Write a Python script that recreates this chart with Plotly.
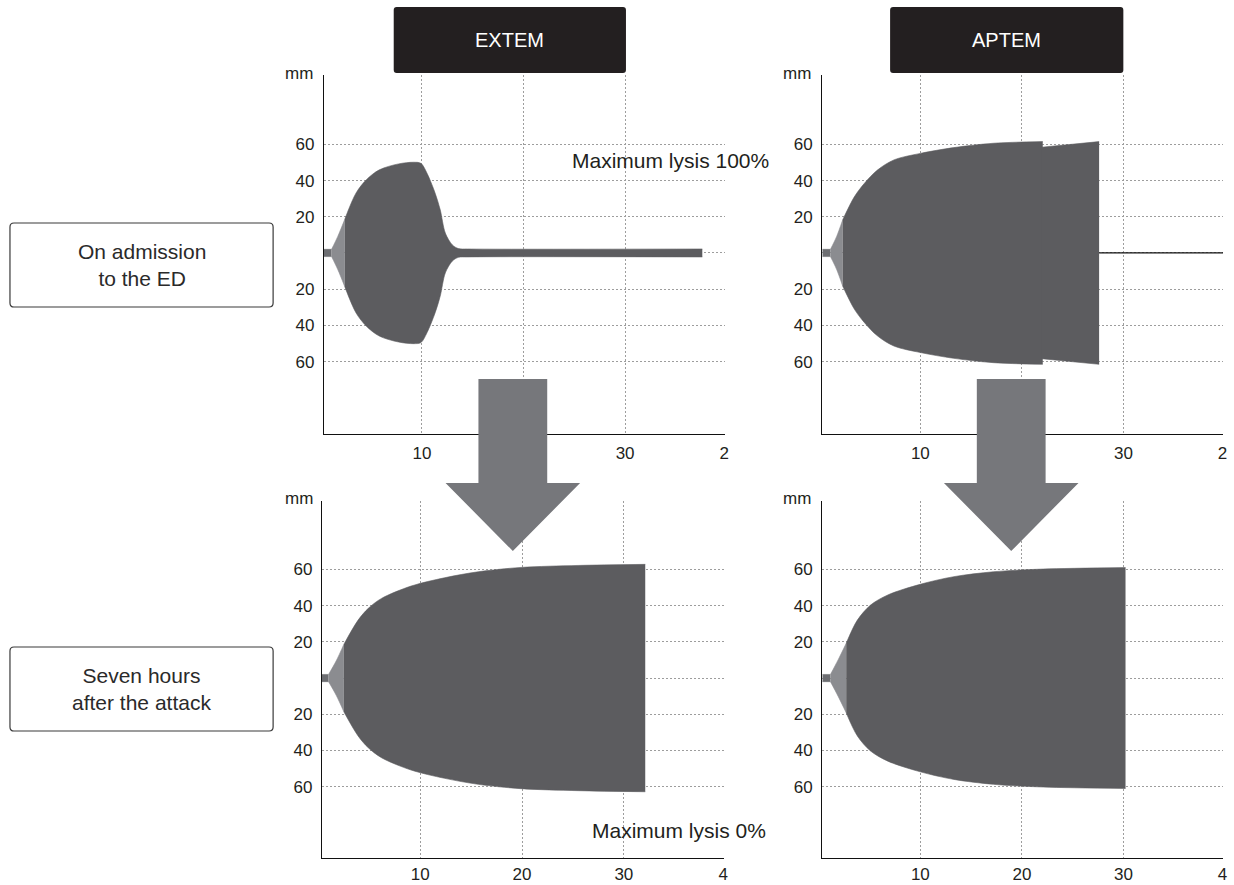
import plotly.graph_objects as go

W, H = 1234, 885
FONT = "Liberation Sans"
INK = "#231f20"
DARK = "#5c5c5f"
LIGHT = "#8b8c90"
START = "#6d6e72"
ARROW = "#76777b"
GRID = "#9d9d9d"

# Temogram amplitudes (mm) against time (min); each trace is symmetric about 0
# EXTEM on admission
ext_adm_start_x = [0.35, 1.1]
ext_adm_start_a = [2.0, 2.0]
ext_adm_cft_x = [1.1, 1.7, 2.4]
ext_adm_cft_a = [2.0, 9.0, 18.6]
ext_adm_x = [2.4, 3.5, 4.5, 5.8, 7.7, 9.2, 9.9, 10.5, 11.3, 11.8, 12.3, 13.0, 13.6, 14.5, 37.6]
ext_adm_a = [18.6, 33.0, 40.3, 45.9, 49.2, 50.1, 49.5, 44.0, 33.0, 23.8, 11.0, 4.4, 2.4, 2.2, 2.2]

# APTEM on admission (curve, then the segment after the step)
apt_adm_start_x = [0.35, 1.15]
apt_adm_start_a = [2.0, 2.0]
apt_adm_cft_x = [1.15, 1.75, 2.35]
apt_adm_cft_a = [2.0, 9.0, 18.2]
apt_adm_x = [2.35, 3.5, 4.5, 5.8, 7.4, 10.0, 13.3, 17.2, 22.05]
apt_adm_a = [18.2, 31.0, 38.5, 45.9, 51.4, 55.0, 58.2, 60.6, 61.5]
apt_adm_tail_x = [21.95, 27.6]
apt_adm_tail_a = [58.4, 61.5]
apt_adm_flat_x = [27.6, 39.8]

# EXTEM seven hours after the attack
ext_7h_start_x = [0.35, 1.0]
ext_7h_start_a = [2.0, 2.0]
ext_7h_cft_x = [1.0, 1.75, 2.5]
ext_7h_cft_a = [2.0, 9.5, 18.6]
ext_7h_x = [2.5, 3.9, 4.9, 6.2, 9.1, 12.4, 15.7, 19.9, 25.5, 32.1]
ext_7h_a = [18.6, 32.0, 38.5, 44.0, 50.8, 55.4, 58.7, 61.1, 62.2, 62.8]

# APTEM seven hours after the attack
apt_7h_start_x = [0.35, 1.15]
apt_7h_start_a = [2.0, 2.0]
apt_7h_cft_x = [1.15, 1.9, 2.7]
apt_7h_cft_a = [2.0, 10.0, 19.2]
apt_7h_x = [2.7, 3.8, 5.1, 6.8, 10.0, 13.3, 17.2, 22.1, 30.2]
apt_7h_a = [19.2, 32.0, 40.3, 45.9, 51.8, 56.0, 58.7, 60.2, 61.0]

x_tick_vals = [10, 20, 30, 39.75]
x_tick_text_top = ["10", "20", "30", "2"]
x_tick_text_bottom = ["10", "20", "30", "4"]
y_tick_vals = [-60, -40, -20, 20, 40, 60]
y_tick_text = ["60", "40", "20", "20", "40", "60"]
grid_x = [10, 20, 30]
grid_y = [-60, -40, -20, 0, 20, 40, 60]

columns = ["EXTEM", "APTEM"]
rows = ["On admission<br>to the ED", "Seven hours<br>after the attack"]
lysis_notes = ["Maximum lysis 100%", "Maximum lysis 0%"]


def px(x):
    return x / W


def py(y):
    return 1 - y / H


fig = go.Figure()


def band(xs, amps, color, axis, shape="spline"):
    xa, ya = ("x", "y") if axis == 1 else (f"x{axis}", f"y{axis}")
    fig.add_trace(go.Scatter(x=xs, y=[-a for a in amps], mode="lines",
                             line=dict(color=color, width=0.6, shape=shape, smoothing=0.9),
                             xaxis=xa, yaxis=ya, hoverinfo="skip"))
    fig.add_trace(go.Scatter(x=xs, y=list(amps), mode="lines", fill="tonexty",
                             fillcolor=color,
                             line=dict(color=color, width=0.6, shape=shape, smoothing=0.9),
                             xaxis=xa, yaxis=ya, hoverinfo="skip"))


# panel 1: EXTEM on admission
band(ext_adm_start_x, ext_adm_start_a, START, 1, "linear")
band(ext_adm_cft_x, ext_adm_cft_a, LIGHT, 1)
band(ext_adm_x, ext_adm_a, DARK, 1)
# panel 2: APTEM on admission
band(apt_adm_start_x, apt_adm_start_a, START, 2, "linear")
band(apt_adm_cft_x, apt_adm_cft_a, LIGHT, 2)
band(apt_adm_x, apt_adm_a, DARK, 2)
band(apt_adm_tail_x, apt_adm_tail_a, DARK, 2, "linear")
fig.add_trace(go.Scatter(x=apt_adm_flat_x, y=[0, 0], mode="lines",
                         line=dict(color="#111111", width=1.2),
                         xaxis="x2", yaxis="y2", hoverinfo="skip"))
# panel 3: EXTEM after seven hours
band(ext_7h_start_x, ext_7h_start_a, START, 3, "linear")
band(ext_7h_cft_x, ext_7h_cft_a, LIGHT, 3)
band(ext_7h_x, ext_7h_a, DARK, 3)
# panel 4: APTEM after seven hours
band(apt_7h_start_x, apt_7h_start_a, START, 4, "linear")
band(apt_7h_cft_x, apt_7h_cft_a, LIGHT, 4)
band(apt_7h_x, apt_7h_a, DARK, 4)

# panel frames in pixels: (left, right, top, bottom)
frames = {
    1: (325, 727, 75, 434),
    2: (825, 1227, 75, 434),
    3: (323, 726, 501, 858),
    4: (825, 1227, 501, 858),
}
y_ranges = {1: [-100.0, 98.3], 2: [-100.0, 98.3], 3: [-99.4, 97.8], 4: [-99.4, 97.8]}

layout = dict(
    width=W, height=H, autosize=False,
    margin=dict(l=0, r=0, t=0, b=0),
    paper_bgcolor="white", plot_bgcolor="white",
    showlegend=False,
    font=dict(family=FONT, color=INK, size=17),
)
for i, (l, r, t, b) in frames.items():
    sx = "" if i == 1 else str(i)
    layout[f"xaxis{sx}"] = dict(
        domain=[px(l), px(r)], range=[0.35, 39.8], anchor=f"y{sx}",
        showline=True, linecolor="#111111", linewidth=1.3,
        showgrid=False, zeroline=False, ticks="",
        tickmode="array", tickvals=x_tick_vals,
        ticktext=x_tick_text_top if i <= 2 else x_tick_text_bottom,
        ticklabelstandoff=3 if i <= 2 else 0, tickfont=dict(size=17),
        minor=dict(tickmode="array", tickvals=grid_x, showgrid=True,
                   gridcolor=GRID, griddash="2px,2px", gridwidth=1, ticks=""),
        fixedrange=True,
    )
    layout[f"yaxis{sx}"] = dict(
        domain=[py(b), py(t)], range=y_ranges[i], anchor=f"x{sx}",
        showline=True, linecolor="#111111", linewidth=1.3,
        showgrid=False, zeroline=False, ticks="",
        tickmode="array", tickvals=y_tick_vals, ticktext=y_tick_text,
        ticklabelstandoff=5, tickfont=dict(size=17),
        minor=dict(tickmode="array", tickvals=grid_y, showgrid=True,
                   gridcolor=GRID, griddash="2px,2px", gridwidth=1, ticks=""),
        fixedrange=True,
    )
fig.update_layout(**layout)


def rounded(x0, y0, x1, y1, r):
    """Rounded rectangle path in paper coordinates from pixel corners."""
    pts = [
        f"M {px(x0 + r)},{py(y0)}", f"L {px(x1 - r)},{py(y0)}",
        f"Q {px(x1)},{py(y0)} {px(x1)},{py(y0 + r)}", f"L {px(x1)},{py(y1 - r)}",
        f"Q {px(x1)},{py(y1)} {px(x1 - r)},{py(y1)}", f"L {px(x0 + r)},{py(y1)}",
        f"Q {px(x0)},{py(y1)} {px(x0)},{py(y1 - r)}", f"L {px(x0)},{py(y0 + r)}",
        f"Q {px(x0)},{py(y0)} {px(x0 + r)},{py(y0)}", "Z",
    ]
    return " ".join(pts)


shapes = []
# column headers
for (x0, x1) in [(395, 628), (893, 1127)]:
    shapes.append(dict(type="path", xref="paper", yref="paper",
                       path=rounded(x0, 7, x1, 73, 3),
                       fillcolor="#231f20", line=dict(width=0), layer="above"))
# row labels
for (y0, y1) in [(223, 307), (647, 731)]:
    shapes.append(dict(type="path", xref="paper", yref="paper",
                       path=rounded(10, y0, 274, y1, 4),
                       fillcolor="white", line=dict(color="#3a3a3a", width=1.2),
                       layer="above"))
# arrows from the admission panels to the seven-hour panels
for cx in [514.5, 1014.5]:
    pts = [(cx - 34.5, 379), (cx + 34.5, 379), (cx + 34.5, 483), (cx + 67.5, 483),
           (cx, 551), (cx - 67.5, 483), (cx - 34.5, 483)]
    path = "M " + " L ".join(f"{px(a)},{py(b)}" for a, b in pts) + " Z"
    shapes.append(dict(type="path", xref="paper", yref="paper", path=path,
                       fillcolor=ARROW, line=dict(width=0), layer="above"))
fig.update_layout(shapes=shapes)

annotations = []
for name, cx in zip(columns, [511.5, 1010]):
    annotations.append(dict(text=name, x=px(cx), y=py(40), xref="paper", yref="paper",
                            showarrow=False, xanchor="center", yanchor="middle",
                            font=dict(color="white", size=20, family=FONT)))
for label, cy in zip(rows, [265, 689]):
    annotations.append(dict(text=label, x=px(142), y=py(cy), xref="paper", yref="paper",
                            showarrow=False, xanchor="center", yanchor="middle",
                            font=dict(size=21, family=FONT, color="#2a2a2a")))
for cx, cy in [(300, 74), (300, 498), (800, 74), (800, 498)]:
    annotations.append(dict(text="mm", x=px(cx), y=py(cy), xref="paper", yref="paper",
                            showarrow=False, xanchor="center", yanchor="middle",
                            font=dict(size=17, family=FONT)))
annotations.append(dict(text=lysis_notes[0], x=px(572), y=py(160), xref="paper", yref="paper",
                        showarrow=False, xanchor="left", yanchor="middle",
                        font=dict(size=21, family=FONT)))
annotations.append(dict(text=lysis_notes[1], x=px(592), y=py(830), xref="paper", yref="paper",
                        showarrow=False, xanchor="left", yanchor="middle",
                        font=dict(size=21, family=FONT)))
fig.update_layout(annotations=annotations)

fig.write_html("out.html")
